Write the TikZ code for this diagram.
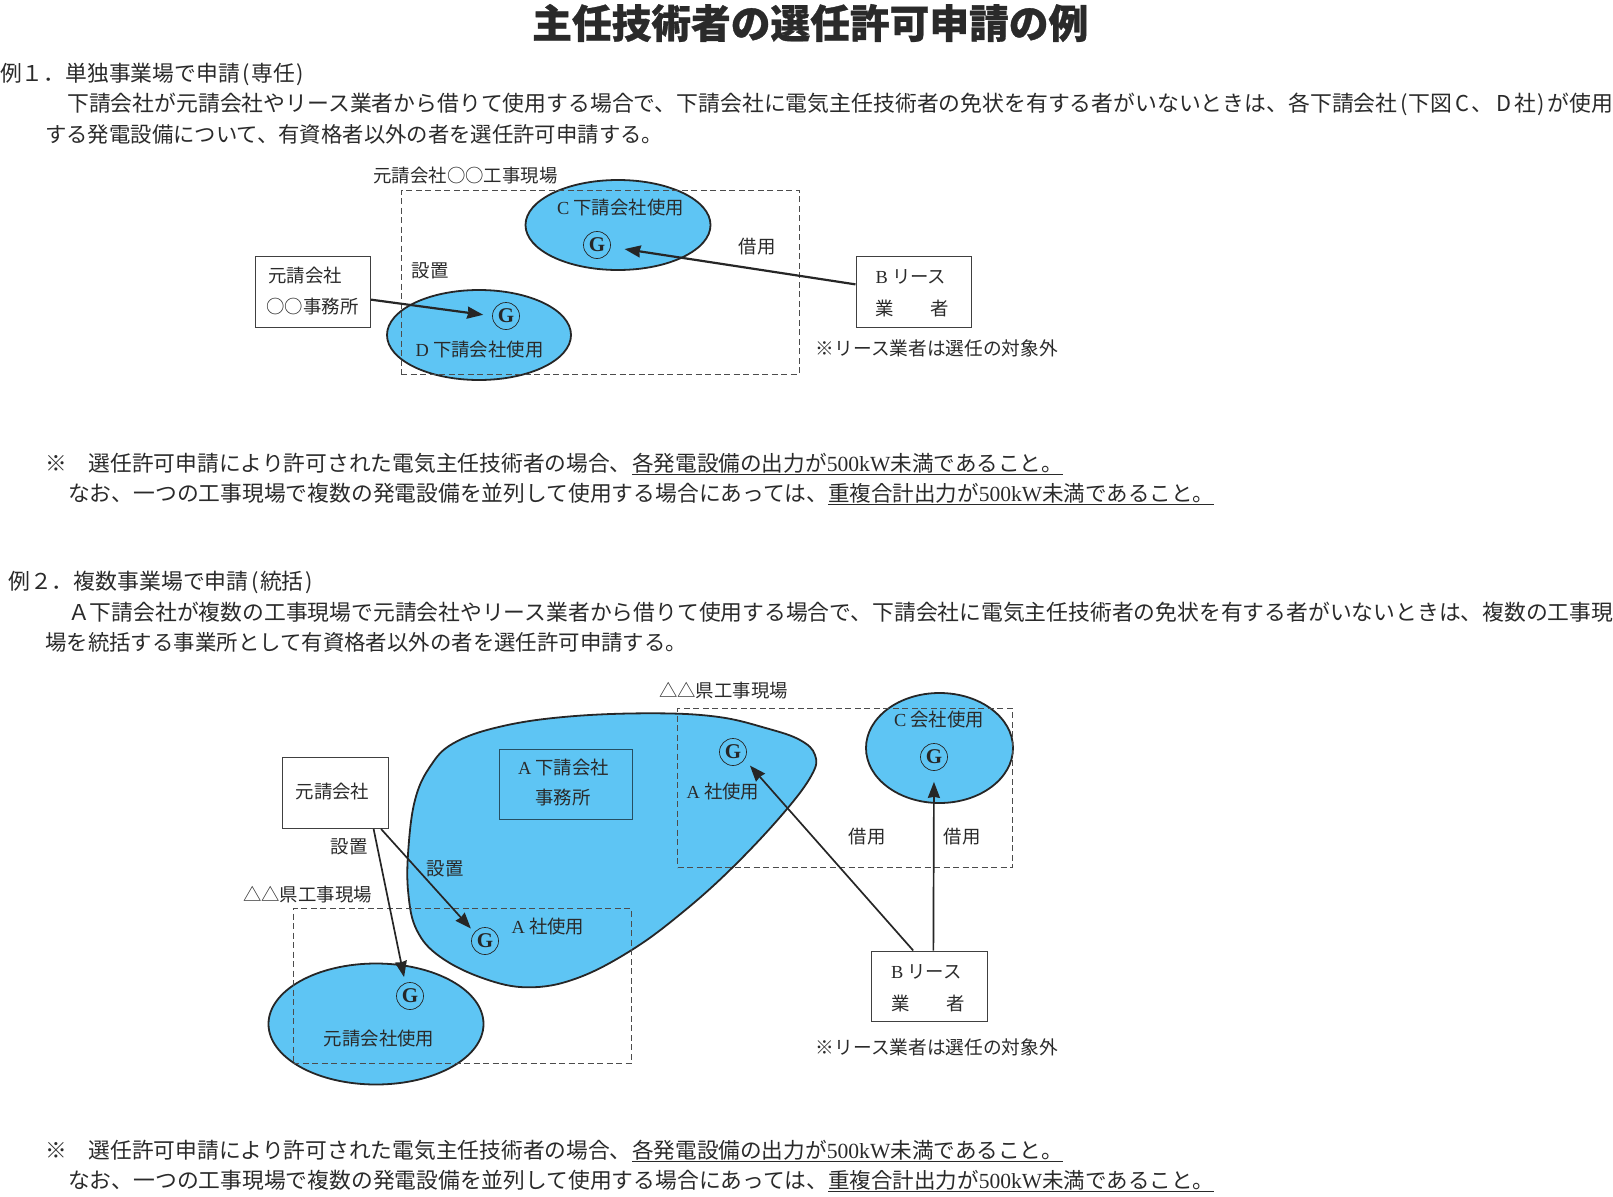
\documentclass[tikz,border=0pt]{standalone}
\usepackage{graphicx}
\usepackage{fontspec}
\setmainfont{Noto Sans CJK JP}
\newfontfamily\latf{Liberation Serif}
\newfontfamily\titlef[BoldFeatures={FakeBold=0.8}]{Noto Sans CJK JP}
\usetikzlibrary{shapes.geometric,arrows.meta}
\definecolor{sky}{HTML}{5EC5F4}
\definecolor{ink}{HTML}{2A2A2A}
\newcommand{\fw}[2]{\resizebox{#1pt}{!}{#2}}
\newcommand{\lt}[1]{{\latf #1}}
\newcommand{\po}{\kern2.5pt(\kern1.5pt}
\newcommand{\pc}{\kern1.5pt)\kern2.5pt}
\newcommand{\blobpath}{plot[smooth cycle,tension=0.65] coordinates {(650,713.3) (716.7,716.7) (766.7,728.3) (800,740) (815,755) (811.7,775) (783.3,813.3) (733.3,866.7) (683.3,911.7) (631.7,950) (576.7,978.3) (528.3,987.3) (483.3,978.3) (440,956.7) (416.7,930) (408.3,893.3) (408.3,850) (415,800) (430,766.7) (453.3,743.3) (500,726.7) (566.7,716.7)}}
\tikzset{
  body/.style={anchor=west,inner sep=0pt,text=ink,font=\fontsize{21.7}{24}\selectfont},
  lbl/.style={inner sep=0pt,text=ink,yshift=-1pt,font=\fontsize{18.4}{22}\selectfont},
  lblw/.style={lbl,font=\fontsize{18.7}{22}\selectfont},
  cloud/.style={ellipse,draw=black!85,line width=1.8pt,fill=sky,inner sep=0pt},
  gen/.style={circle,draw=black!85,line width=0.7pt,minimum size=27pt,inner sep=0pt,text=black!85,font=\latf\bfseries\fontsize{21}{24}\selectfont},
  zone/.style={draw=black!70,line width=1pt,dash pattern=on 6pt off 3.5pt},
  org/.style={rectangle,draw=black!75,line width=1pt,inner sep=0pt},
  arr/.style={draw=black!85,line width=2.2pt,-{Stealth[length=16pt,width=12pt,inset=1pt]}},
  arrb/.style={arr,line width=1.7pt},
  ul/.style={draw=ink,line width=0.8pt}
}
\begin{document}
\begin{tikzpicture}[x=1pt,y=-1pt]
\useasboundingbox (0,0) rectangle (1613,1196);
% title and text, top
\node[body,font=\titlef\bfseries\fontsize{39.7}{44}\selectfont] (title) at (532,23) {\fw{556}{主任技術者の選任許可申請の例}};
\node[body] (h1) at (0,74) {\fw{306}{例１．単独事業場で申請\po 専任\pc}};
\node[body] (p1a) at (67,104) {\fw{1546}{下請会社が元請会社やリース業者から借りて使用する場合で、下請会社に電気主任技術者の免状を有する者がいないときは、各下請会社\po 下図\kern3pt C\kern2pt、\kern3pt D\kern3pt 社\pc が使用}};
\node[body] (p1b) at (45,134) {\fw{618}{する発電設備について、有資格者以外の者を選任許可申請する。}};
% diagram 1
\node[cloud,minimum width=185pt,minimum height=90pt] (ec1) at (618,225) {};
\node[cloud,minimum width=184pt,minimum height=90pt] (ed1) at (479,335) {};
\node[zone,rectangle,minimum width=398pt,minimum height=184pt,inner sep=0pt] (z1) at (600,282) {};
\node[org,minimum width=115pt,minimum height=71pt] (yu1) at (313,291.5) {};
\node[org,minimum width=115pt,minimum height=71pt] (bl1) at (913.5,291.5) {};
\node[gen] (gc1) at (597,245) {G};
\node[gen] (gd1) at (506,316) {G};
\node[lbl] (t1) at (465.5,175) {元請会社○○工事現場};
\node[lbl] (t2) at (620.5,207) {\lt{C} 下請会社使用};
\node[lbl] (t3) at (479.5,349) {\lt{D} 下請会社使用};
\node[lbl] (t4) at (757,246) {借用};
\node[lbl] (t5) at (430,270) {設置};
\node[lbl] (t6) at (305,275) {元請会社};
\node[lbl] (t7) at (312.5,306) {○○事務所};
\node[lbl] (t8) at (911,276) {\lt{B} リース};
\node[lbl] (t9) at (912,307) {業　　者};
\node[lblw] (t10) at (937,347) {※リース業者は選任の対象外};
\draw[arr,shorten >=9pt] (yu1.-8.4) -- (gd1.west);
\draw[arr,shorten >=14pt] (bl1.173.5) -- (gc1.-8);
% notes 1
\node[body] (n1m) at (45,463) {※};
\node[body] (n1a) at (88.5,463) {\fw{543}{選任許可申請により許可された電気主任技術者の場合、}};
\node[body] (n1b) at (632,463) {\fw{431}{各発電設備の出力が\lt{500kW}未満であること。}};
\node[body] (n2a) at (68,493) {\fw{760}{なお、一つの工事現場で複数の発電設備を並列して使用する場合にあっては、}};
\node[body] (n2b) at (828,493) {\fw{386}{重複合計出力が\lt{500kW}未満であること。}};
\coordinate (u1l) at (632,474); \coordinate (u1r) at (1063,474);
\coordinate (u2l) at (828,504); \coordinate (u2r) at (1214,504);
\draw[ul] (u1l) -- (u1r);
\draw[ul] (u2l) -- (u2r);
% example 2 text
\node[body] (h2) at (8,582) {\fw{307}{例２．複数事業場で申請\po 統括\pc}};
\node[body] (p2a) at (68,612) {\fw{1545}{Ａ下請会社が複数の工事現場で元請会社やリース業者から借りて使用する場合で、下請会社に電気主任技術者の免状を有する者がいないときは、複数の工事現}};
\node[body] (p2b) at (45,642) {\fw{642}{場を統括する事業所として有資格者以外の者を選任許可申請する。}};
% diagram 2
\fill[sky] \blobpath;
\draw[draw=black!85,line width=1.8pt] \blobpath;
\node[cloud,minimum width=147pt,minimum height=110pt] (ec2) at (939.5,748) {};
\node[cloud,minimum width=215pt,minimum height=121pt] (ey2) at (376,1024) {};
\node[zone,rectangle,minimum width=335pt,minimum height=159pt,inner sep=0pt] (z2) at (845,788) {};
\node[zone,rectangle,minimum width=338pt,minimum height=155pt,inner sep=0pt] (z3) at (462,986) {};
\node[org,draw=black!60!sky,minimum width=133pt,minimum height=70pt] (ao2) at (566,784) {};
\node[org,fill=white,minimum width=106pt,minimum height=71pt] (yu2) at (335,793) {};
\node[org,minimum width=116pt,minimum height=70pt] (bl2) at (929,986) {};
\node[gen] (ga2) at (733,752) {G};
\node[gen] (gc2) at (934,757) {G};
\node[gen] (gl2) at (485,941) {G};
\node[gen] (gy2) at (410,996) {G};
\node[lbl] (s1) at (723.5,690) {△△県工事現場};
\node[lbl] (s2) at (563.5,767) {\lt{A} 下請会社};
\node[lbl] (s3) at (563,797) {事務所};
\node[lbl] (s4) at (332.5,791) {元請会社};
\node[lbl] (s5) at (349,846) {設置};
\node[lbl] (s6) at (445,868) {設置};
\node[lbl] (s7) at (307.5,894) {△△県工事現場};
\node[lbl] (s8) at (548,926) {\lt{A} 社使用};
\node[lbl] (s9) at (723,791) {\lt{A} 社使用};
\node[lbl] (s10) at (939,719) {\lt{C} 会社使用};
\node[lbl] (s11) at (867,836) {借用};
\node[lbl] (s12) at (962,836) {借用};
\node[lbl] (s13) at (926.5,971) {\lt{B} リース};
\node[lbl] (s14) at (928.5,1002) {業　　者};
\node[lblw] (s15) at (937,1046) {※リース業者は選任の対象外};
\node[lbl] (s16) at (379,1038) {元請会社使用};
\draw[arrb,shorten >=5pt] (yu2.-38.3) -- (gl2.141);
\draw[arrb,shorten >=6pt] (yu2.-43) -- (gy2.110);
\draw[arrb,shorten >=8pt] (bl2.114.6) -- (ga2.-33);
\draw[arrb,shorten >=11pt] (bl2.83.5) -- (gc2.south);
% notes 2
\node[body] (n3m) at (45,1150) {※};
\node[body] (n3a) at (88.5,1150) {\fw{543}{選任許可申請により許可された電気主任技術者の場合、}};
\node[body] (n3b) at (632,1150) {\fw{431}{各発電設備の出力が\lt{500kW}未満であること。}};
\node[body] (n4a) at (68,1180) {\fw{760}{なお、一つの工事現場で複数の発電設備を並列して使用する場合にあっては、}};
\node[body] (n4b) at (828,1180) {\fw{386}{重複合計出力が\lt{500kW}未満であること。}};
\coordinate (u3l) at (632,1161); \coordinate (u3r) at (1063,1161);
\coordinate (u4l) at (828,1191); \coordinate (u4r) at (1214,1191);
\draw[ul] (u3l) -- (u3r);
\draw[ul] (u4l) -- (u4r);
\end{tikzpicture}
\end{document}
